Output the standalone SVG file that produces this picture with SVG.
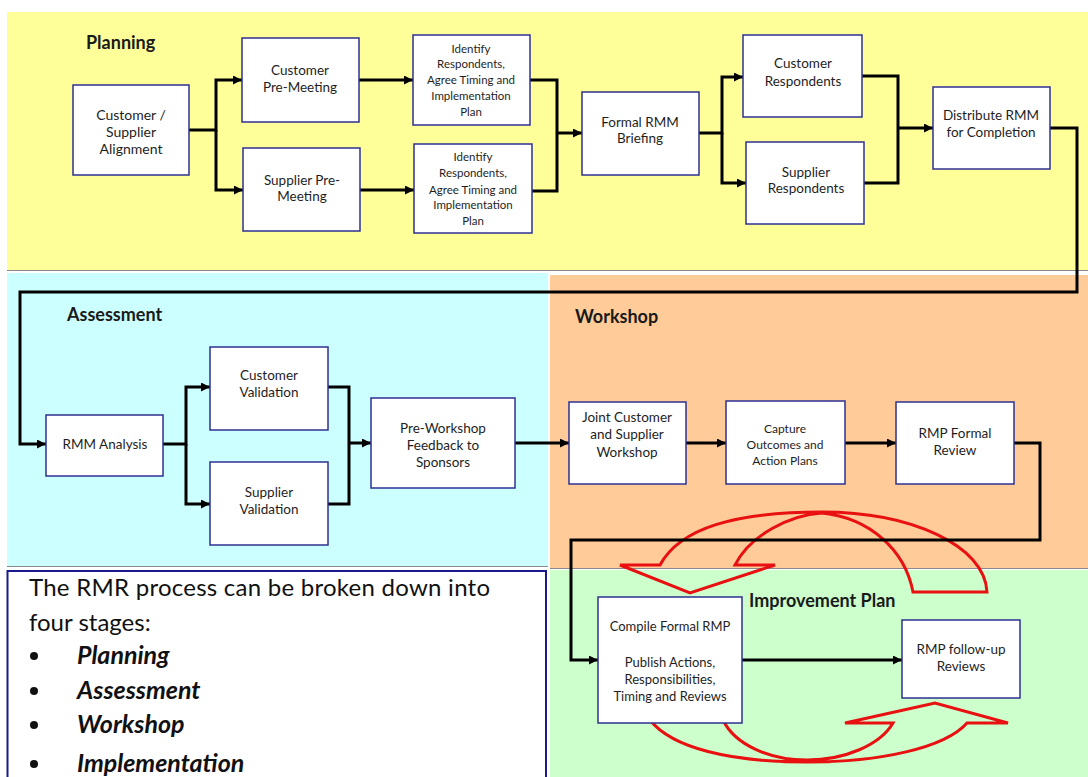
<svg xmlns="http://www.w3.org/2000/svg" width="1088" height="777" viewBox="0 0 1088 777">
<defs>
<style>
.box{fill:#fff;stroke:#2E3192;stroke-width:1.5}
.t{font-family:Lato,"Liberation Sans",sans-serif;fill:#1e1e1e;text-anchor:middle;font-size:13.5px}
.s{font-size:11.5px}
.title{font-family:Lato,"Liberation Sans",sans-serif;font-weight:bold;font-size:18px;fill:#1a1a1a}
.conn{fill:none;stroke:#000;stroke-width:3}
.red{fill:none;stroke:#E81010;stroke-width:3;stroke-linejoin:miter}
.sep{stroke:#8a8a8a;stroke-width:1}
.note{font-family:Lato,"Liberation Sans",sans-serif;fill:#111;font-size:24px}
.bul{font-family:Lato,"Liberation Sans",sans-serif;fill:#111;font-size:25px;font-weight:bold;font-style:italic}
</style>
<marker id="ah" viewBox="0 0 10 10" refX="10" refY="5" markerWidth="9" markerHeight="9" markerUnits="userSpaceOnUse" orient="auto">
<path d="M0,0 L10,5 L0,10 z" fill="#000"/>
</marker>
</defs>
<rect width="1088" height="777" fill="#fff"/>
<g id="regions">
<rect x="7" y="12" width="1081" height="258" fill="#FFFF99"/>
<line class="sep" x1="7" y1="270.5" x2="1088" y2="270.5"/>
<rect x="7" y="273" width="541" height="293" fill="#CCFFFF"/>
<line class="sep" x1="7" y1="566.5" x2="548" y2="566.5"/>
<rect x="550" y="275" width="538" height="293" fill="#FFCC99"/>
<line class="sep" x1="550" y1="568.5" x2="1088" y2="568.5"/>
<rect x="550" y="570" width="538" height="207" fill="#CCFFCC"/>
<text class="title" x="86" y="49">Planning</text>
<text class="title" x="67" y="321">Assessment</text>
<text class="title" x="575" y="323">Workshop</text>
<text class="title" x="749" y="607">Improvement Plan</text>
</g>
<g id="note">
<rect x="7.5" y="571" width="538.5" height="215" fill="#fff" stroke="#1A1A8C" stroke-width="2"/>
<text class="note" x="29" y="596" textLength="461" lengthAdjust="spacing">The RMR process can be broken down into</text>
<text class="note" x="29" y="631">four stages:</text>
<g fill="#111">
<circle cx="34" cy="656" r="4"/>
<circle cx="34" cy="691" r="4"/>
<circle cx="34" cy="725" r="4"/>
<circle cx="34" cy="764" r="4"/>
</g>
<text class="bul" x="77" y="664">Planning</text>
<text class="bul" x="77" y="699">Assessment</text>
<text class="bul" x="77" y="733">Workshop</text>
<text class="bul" x="77" y="772">Implementation</text>
</g>
<g id="cycle-arrows">
<path class="red" d="M660,565 C680,528 735,512 822,512 C910,512 985,545 987,592 L913,592 C905,550 870,518 822,513 C790,515 750,535 735,565 L775,565 L690,593 L620,565 Z"/>
<path class="red" d="M650,720 C672,748 730,762 807,762 C880,762 945,748 967,723 L1008,723 L935,703 L845,723 L893,723 C880,745 845,760 807,760 C770,760 735,745 723,720 Z"/>
</g>
<g id="connectors">
<path class="conn" marker-end="url(#ah)" d="M189,130 H216 V80 H242"/>
<path class="conn" marker-end="url(#ah)" d="M216,130 V190 H243"/>
<path class="conn" marker-end="url(#ah)" d="M359,80 H413"/>
<path class="conn" marker-end="url(#ah)" d="M360,190 H414"/>
<path class="conn" d="M530,80 H557 V191 H532"/>
<path class="conn" marker-end="url(#ah)" d="M557,133 H582"/>
<path class="conn" marker-end="url(#ah)" d="M699,133 H722 V77 H743"/>
<path class="conn" marker-end="url(#ah)" d="M722,133 V183 H746"/>
<path class="conn" d="M862,76 H898 V183 H864"/>
<path class="conn" marker-end="url(#ah)" d="M898,128 H933"/>
<path class="conn" marker-end="url(#ah)" d="M1050,128 H1077 V292 H20 V444 H46"/>
<path class="conn" marker-end="url(#ah)" d="M163,444 H186 V387 H210"/>
<path class="conn" marker-end="url(#ah)" d="M186,444 V504 H210"/>
<path class="conn" d="M328,387 H349 V504 H328"/>
<path class="conn" marker-end="url(#ah)" d="M349,443 H371"/>
<path class="conn" marker-end="url(#ah)" d="M515,443 H569"/>
<path class="conn" marker-end="url(#ah)" d="M686,443 H726"/>
<path class="conn" marker-end="url(#ah)" d="M845,443 H896"/>
<path class="conn" marker-end="url(#ah)" d="M1014,443 H1040 V540 H571 V660 H598"/>
<path class="conn" marker-end="url(#ah)" d="M742,660 H902"/>
</g>
<g id="n-alignment"><rect class="box" x="73" y="85" width="116" height="90"/>
<text class="t" style="font-size:14px"><tspan x="131" y="120">Customer /</tspan><tspan x="131" y="137">Supplier</tspan><tspan x="131" y="154">Alignment</tspan></text></g>
<g id="n-cust-pre"><rect class="box" x="242" y="38" width="117" height="84"/>
<text class="t"><tspan x="300" y="75">Customer</tspan><tspan x="300" y="92">Pre-Meeting</tspan></text></g>
<g id="n-supp-pre"><rect class="box" x="243" y="148" width="117" height="83"/>
<text class="t"><tspan x="302" y="185">Supplier Pre-</tspan><tspan x="302" y="201">Meeting</tspan></text></g>
<g id="n-identify-1"><rect class="box" x="413" y="35" width="117" height="90"/>
<text class="t s"><tspan x="471" y="53">Identify</tspan><tspan x="471" y="68">Respondents,</tspan><tspan x="471" y="84">Agree Timing and</tspan><tspan x="471" y="100">Implementation</tspan><tspan x="471" y="116">Plan</tspan></text></g>
<g id="n-identify-2"><rect class="box" x="414" y="144" width="118" height="89"/>
<text class="t s"><tspan x="473" y="161">Identify</tspan><tspan x="473" y="177">Respondents,</tspan><tspan x="473" y="194">Agree Timing and</tspan><tspan x="473" y="209">Implementation</tspan><tspan x="473" y="225">Plan</tspan></text></g>
<g id="n-briefing"><rect class="box" x="582" y="92" width="117" height="83"/>
<text class="t"><tspan x="640" y="127">Formal RMM</tspan><tspan x="640" y="143">Briefing</tspan></text></g>
<g id="n-cust-resp"><rect class="box" x="743" y="35" width="119" height="82"/>
<text class="t"><tspan x="803" y="68">Customer</tspan><tspan x="803" y="86">Respondents</tspan></text></g>
<g id="n-supp-resp"><rect class="box" x="746" y="142" width="118" height="82"/>
<text class="t"><tspan x="806" y="177">Supplier</tspan><tspan x="806" y="193">Respondents</tspan></text></g>
<g id="n-distribute"><rect class="box" x="933" y="87" width="117" height="82"/>
<text class="t"><tspan x="991" y="120">Distribute RMM</tspan><tspan x="991" y="137">for Completion</tspan></text></g>
<g id="n-rmm-analysis"><rect class="box" x="46" y="415" width="117" height="61"/>
<text class="t" x="105" y="449">RMM Analysis</text></g>
<g id="n-cust-val"><rect class="box" x="210" y="347" width="118" height="83"/>
<text class="t"><tspan x="269" y="380">Customer</tspan><tspan x="269" y="397">Validation</tspan></text></g>
<g id="n-supp-val"><rect class="box" x="210" y="462" width="118" height="83"/>
<text class="t"><tspan x="269" y="497">Supplier</tspan><tspan x="269" y="514">Validation</tspan></text></g>
<g id="n-pre-workshop"><rect class="box" x="371" y="398" width="144" height="90"/>
<text class="t"><tspan x="443" y="433">Pre-Workshop</tspan><tspan x="443" y="450">Feedback to</tspan><tspan x="443" y="467">Sponsors</tspan></text></g>
<g id="n-joint"><rect class="box" x="569" y="402" width="117" height="82"/>
<text class="t"><tspan x="627" y="422">Joint Customer</tspan><tspan x="627" y="439">and Supplier</tspan><tspan x="627" y="457">Workshop</tspan></text></g>
<g id="n-capture"><rect class="box" x="726" y="401" width="119" height="83"/>
<text class="t" style="font-size:12px"><tspan x="785" y="433">Capture</tspan><tspan x="785" y="449">Outcomes and</tspan><tspan x="785" y="465">Action Plans</tspan></text></g>
<g id="n-rmp-review"><rect class="box" x="896" y="402" width="118" height="82"/>
<text class="t"><tspan x="955" y="438">RMP Formal</tspan><tspan x="955" y="455">Review</tspan></text></g>
<g id="n-compile"><rect class="box" x="598" y="597" width="144" height="126"/>
<text class="t" style="font-size:13px"><tspan x="670" y="631">Compile Formal RMP</tspan><tspan x="670" y="667">Publish Actions,</tspan><tspan x="670" y="684">Responsibilities,</tspan><tspan x="670" y="701">Timing and Reviews</tspan></text></g>
<g id="n-followup"><rect class="box" x="902" y="620" width="118" height="78"/>
<text class="t"><tspan x="961" y="654">RMP follow-up</tspan><tspan x="961" y="671">Reviews</tspan></text></g>
</svg>
